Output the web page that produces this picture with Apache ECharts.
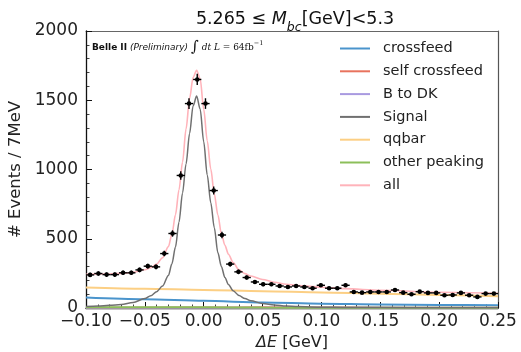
<!DOCTYPE html>
<html lang="en">
<head>
    <meta charset="UTF-8">
    <title>Delta E fit</title>
    <style>
        html, body { margin: 0; padding: 0; background: #fff; }
        #container { width: 521px; height: 352px; }
    </style>
</head>
<body>
<div id="container"></div>
<script src="https://cdn.jsdelivr.net/npm/echarts@6/dist/echarts.min.js"></script>
<script type="text/javascript">
    // histogram: 7 MeV bins from -0.10 to 0.25 GeV
    var binStart = -0.1;
    var binWidth = 0.007;
    var counts = [239, 249, 241, 241, 254, 254, 275, 302, 297, 393,
                  538, 957, 1476, 1650, 1476, 848, 527, 317, 261, 220,
                  188, 171, 171, 159, 152, 159, 152, 143, 164, 143,
                  143, 164, 116, 111, 116, 116, 116, 130, 111, 99,
                  118, 109, 109, 92, 94, 109, 92, 80, 104, 104];

    // fit curves
    var curveX = [-0.1, -0.09, -0.08, -0.07, -0.06, -0.05, -0.045, -0.04, -0.035, -0.03,
                  -0.027, -0.024, -0.021, -0.018, -0.015, -0.012, -0.009, -0.006, -0.003, 0.0,
                  0.003, 0.006, 0.009, 0.012, 0.015, 0.018, 0.021, 0.025, 0.03, 0.035,
                  0.04, 0.05, 0.06, 0.07, 0.08, 0.1, 0.12, 0.15, 0.2, 0.25];
    var signalY = [10, 14, 19, 26, 40, 68, 88, 118, 158, 235,
                   320, 440, 620, 830, 1040, 1260, 1460, 1530, 1435, 1200,
                   960, 760, 580, 400, 300, 220, 170, 125, 90, 68,
                   52, 33, 22, 14, 10, 6, 4, 3, 2, 1];
    var allY = [243, 245, 246, 250, 257, 276, 291, 317, 363, 443,
                533, 673, 853, 1053, 1293, 1513, 1665, 1717, 1655, 1435,
                1208, 1003, 823, 673, 538, 453, 388, 328, 275, 248,
                231, 206, 186, 172, 162, 150, 140, 128, 114, 106];

    var bgX = [-0.1, -0.05, 0.0, 0.05, 0.1, 0.15, 0.2, 0.25];
    var crossfeedY = [75, 63, 52, 40, 31, 26, 22, 19];
    var selfCrossfeedY = [1, 2, 4, 5, 4, 2, 1, 1];
    var bToDKY = [1, 1, 1, 1, 1, 1, 1, 1];
    var qqbarY = [148, 139, 130, 121, 112, 103, 94, 85];
    var otherPeakingY = [6, 6, 5, 3, 2, 1, 1, 1];

    var xTicks = { min: -0.1, max: 0.25, interval: 0.05 };
    var yTicks = { min: 0, max: 2000, interval: 500 };

    var font = 'DejaVu Sans';

    function pairs(xs, ys) {
        return xs.map(function (x, i) { return [x, ys[i]]; });
    }

    function curve(name, xs, ys, color, width, z) {
        return {
            name: name,
            type: 'line',
            data: pairs(xs, ys),
            symbol: 'none',
            smooth: 0.3,
            smoothMonotone: 'x',
            lineStyle: { color: color, width: width },
            itemStyle: { color: color },
            z: z,
            silent: true
        };
    }

    var points = counts.map(function (v, i) {
        return [binStart + binWidth * (i + 0.5), v];
    });

    var chart = echarts.init(document.getElementById('container'), null, { renderer: 'canvas' });

    var option = {
        animation: false,
        backgroundColor: '#fff',
        textStyle: { fontFamily: font },
        title: {
            text: '{n|5.265 ≤ }{i|M}{s|bc}{n|[GeV]<5.3}',
            left: 290,
            top: 3,
            textAlign: 'center',
            textStyle: {
                fontWeight: 'normal',
                rich: {
                    n: { fontFamily: font, fontWeight: 'normal', fontSize: 17.5, color: '#111', lineHeight: 22 },
                    i: { fontFamily: font, fontWeight: 'normal', fontStyle: 'italic', fontSize: 17.5, color: '#111', lineHeight: 22 },
                    s: { fontFamily: font, fontWeight: 'normal', fontStyle: 'italic', fontSize: 12.5, color: '#111', lineHeight: 16, verticalAlign: 'bottom', padding: [0, 0, -4, 0] }
                }
            }
        },
        legend: {
            orient: 'vertical',
            left: 340,
            top: 41,
            padding: 0,
            icon: 'rect',
            itemWidth: 30,
            itemHeight: 2,
            itemGap: 7.8,
            textStyle: { fontFamily: font, fontSize: 14.5, color: '#222', lineHeight: 14, padding: [0, 0, 0, 8] },
            data: ['crossfeed', 'self crossfeed', 'B to DK', 'Signal', 'qqbar', 'other peaking', 'all']
        },
        grid: { left: 86, right: 23, top: 31, bottom: 44, containLabel: false, outerBoundsMode: 'none' },
        xAxis: [{
            type: 'value',
            min: xTicks.min,
            max: xTicks.max,
            interval: xTicks.interval,
            name: '{i|ΔE} [GeV]',
            nameLocation: 'middle',
            nameGap: 27,
            nameTextStyle: {
                fontFamily: font, fontSize: 16, color: '#222',
                rich: { i: { fontFamily: font, fontStyle: 'italic', fontSize: 16, color: '#222' } }
            },
            axisLine: { onZero: false, lineStyle: { color: '#111', width: 1.3 } },
            axisTick: { inside: true, length: 6, lineStyle: { color: '#111', width: 1 } },
            minorTick: { show: true, splitNumber: 5, length: 3.5, lineStyle: { color: '#111', width: 0.8 } },
            splitLine: { show: false },
            axisLabel: {
                fontFamily: font, fontSize: 17, color: '#222', margin: 5,
                formatter: function (v) {
                    return (v < 0 ? '\u2212' : '') + Math.abs(v).toFixed(2);
                }
            }
        }, {
            type: 'value',
            position: 'top',
            min: xTicks.min,
            max: xTicks.max,
            axisLine: { show: true, onZero: false, lineStyle: { color: '#666', width: 1.2 } },
            axisTick: { show: false },
            axisLabel: { show: false },
            splitLine: { show: false }
        }],
        yAxis: [{
            type: 'value',
            min: yTicks.min,
            max: yTicks.max,
            interval: yTicks.interval,
            name: '# Events / 7MeV',
            nameLocation: 'middle',
            nameGap: 62,
            nameTextStyle: { fontFamily: font, fontSize: 16.5, color: '#222' },
            axisLine: { show: true, onZero: false, lineStyle: { color: '#111', width: 1.3 } },
            axisTick: { inside: true, length: 6, lineStyle: { color: '#111', width: 1 } },
            minorTick: { show: true, splitNumber: 5, length: 3.5, lineStyle: { color: '#111', width: 0.8 } },
            splitLine: { show: false },
            axisLabel: {
                fontFamily: font, fontSize: 17, color: '#222', margin: 8,
                formatter: function (v) { return String(v); }
            }
        }, {
            type: 'value',
            position: 'right',
            min: yTicks.min,
            max: yTicks.max,
            axisLine: { show: true, onZero: false, lineStyle: { color: '#555', width: 1.2 } },
            axisTick: { show: false },
            axisLabel: { show: false },
            splitLine: { show: false }
        }],
        graphic: [{
            type: 'text',
            left: 92,
            top: 40,
            style: {
                text: '{b|Belle II}{p| (Preliminary) }{int|∫}{m| dt L }{n|= 64fb}{sup|−1}',
                rich: {
                    b: { fontFamily: font, fontWeight: 'bold', fontSize: 9, fill: '#111' },
                    p: { fontFamily: font, fontStyle: 'italic', fontSize: 9, fill: '#111' },
                    int: { fontFamily: 'DejaVu Serif', fontSize: 15, fill: '#111' },
                    m: { fontFamily: 'DejaVu Serif', fontStyle: 'italic', fontSize: 9, fill: '#111' },
                    n: { fontFamily: 'DejaVu Serif', fontSize: 9, fill: '#111' },
                    sup: { fontFamily: 'DejaVu Serif', fontSize: 6.5, fill: '#111', verticalAlign: 'top' }
                }
            }
        }],
        series: [
            curve('crossfeed', bgX, crossfeedY, '#4a94cc', 2, 2),
            curve('self crossfeed', bgX, selfCrossfeedY, '#e8735e', 2, 2),
            curve('B to DK', bgX, bToDKY, '#a99ae0', 2, 2),
            curve('Signal', curveX, signalY, '#707070', 1.5, 3),
            curve('qqbar', bgX, qqbarY, '#fccf84', 2, 2),
            curve('other peaking', bgX, otherPeakingY, '#8cbf5a', 2, 2),
            curve('all', curveX, allY, '#ffb3ba', 1.6, 4),
            {
                name: 'data',
                type: 'custom',
                data: points,
                z: 10,
                silent: true,
                renderItem: function (params, api) {
                    var x = api.value(0), y = api.value(1);
                    var c = api.coord([x, y]);
                    var hw = api.size([binWidth, 0])[0] / 2;
                    var e = api.size([0, Math.sqrt(y)])[1];
                    var st = { stroke: '#000', lineWidth: 1.4 };
                    return {
                        type: 'group',
                        children: [
                            { type: 'line', shape: { x1: c[0] - hw, y1: c[1], x2: c[0] + hw, y2: c[1] }, style: st },
                            { type: 'line', shape: { x1: c[0], y1: c[1] - e, x2: c[0], y2: c[1] + e }, style: st },
                            { type: 'circle', shape: { cx: c[0], cy: c[1], r: 2.3 }, style: { fill: '#000' } }
                        ]
                    };
                }
            }
        ]
    };

    chart.setOption(option);
</script>
</body>
</html>
